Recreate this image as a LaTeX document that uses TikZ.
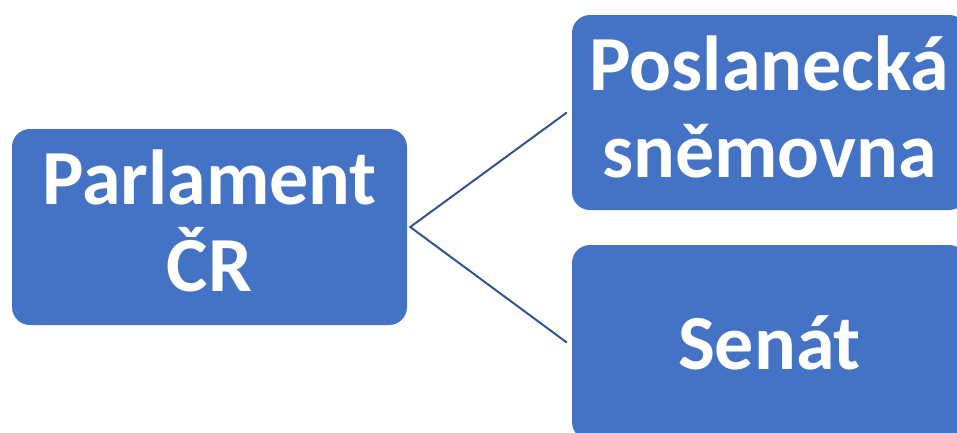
\documentclass[tikz,border=0pt]{standalone}
\usepackage{fontspec}
\setmainfont{Carlito}
\definecolor{boxblue}{HTML}{4472C4}
\definecolor{linkblue}{HTML}{2F5597}
\newcommand{\lowpad}{\rule[-12pt]{0pt}{1pt}}
\begin{document}
\begin{tikzpicture}[x=1pt,y=1pt,
  orgbox/.style={rectangle, rounded corners=18pt, fill=boxblue, text=white,
    minimum width=395pt, minimum height=195pt, align=center, inner sep=0pt,
    font=\bfseries\fontsize{78}{87}\selectfont},
  link/.style={draw=linkblue, line width=2pt}]
\useasboundingbox (0,0) rectangle (957,-432);
\clip (0,0) rectangle (957,-432);
\node[orgbox, minimum height=196pt] (parl) at (209.5,-227) {Parlament\\ČR\lowpad};
\node[orgbox] (psp) at (769.5,-112.5) {Poslanecká\\sněmovna\lowpad};
\node[orgbox] (sen) at (769.5,-342.5) {Senát};
\coordinate (hub) at ([xshift=3pt]parl.east);
\coordinate (e1) at ([xshift=-5pt]psp.west);
\coordinate (e2) at ([xshift=-5pt]sen.west);
\draw[link] (e1) -- (hub) -- (e2);
\end{tikzpicture}
\end{document}
